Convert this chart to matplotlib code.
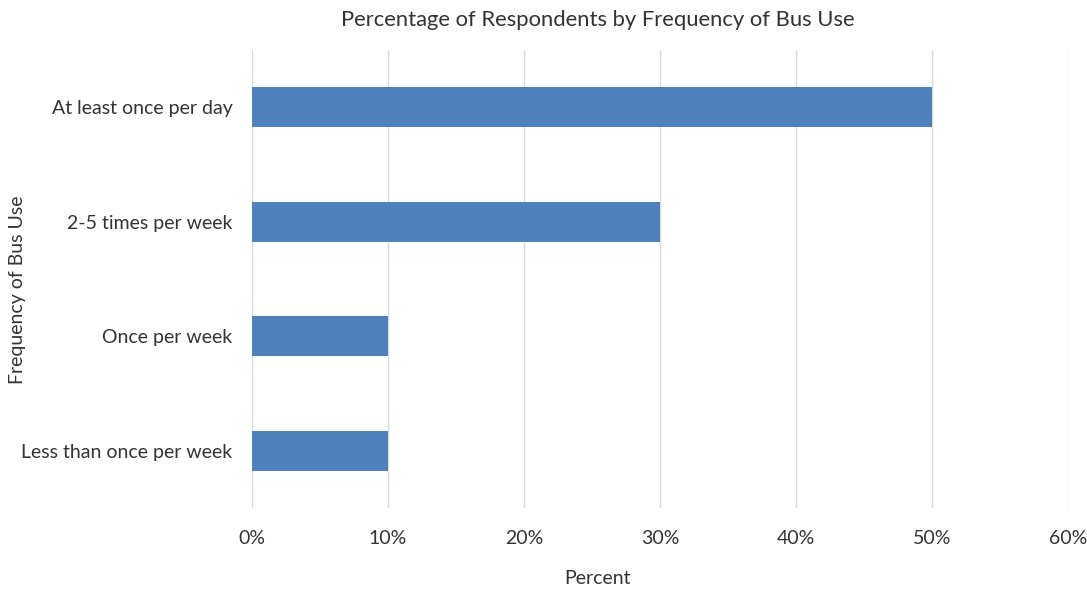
import matplotlib
matplotlib.use("Agg")
import matplotlib.pyplot as plt
from matplotlib.ticker import PercentFormatter

categories = ["At least once per day", "2-5 times per week", "Once per week", "Less than once per week"]
values = [50, 30, 10, 10]
xticks = [0, 10, 20, 30, 40, 50, 60]

plt.rcParams['font.family'] = ['Lato', 'DejaVu Sans']
txt = '#333333'

fig = plt.figure(figsize=(10.87, 5.91), dpi=100)
ax = fig.add_axes([0.2318, 0.1404, 0.7507, 0.775])
y = list(range(len(categories)))
ax.barh(y, values, height=0.35, color='#4f81bd', zorder=3)
ax.set_ylim(len(categories) - 0.5, -0.5)
ax.set_yticks(y)
ax.set_yticklabels(categories, fontsize=14, color=txt)
ax.set_xlim(0, 60)
ax.set_xticks(xticks)
ax.xaxis.set_major_formatter(PercentFormatter(decimals=0))
ax.tick_params(axis='x', labelsize=14, colors=txt, length=0, pad=16)
ax.tick_params(axis='y', length=0, pad=14)
ax.grid(axis='x', color='#d9d9d9', linewidth=1, zorder=0)
for s in ax.spines.values():
    s.set_visible(False)
fig.text(598 / 1087, 1 - 578 / 591, "Percent", ha='center', va='center', fontsize=14, color=txt)
fig.text(18 / 1087, 1 - 290 / 591, "Frequency of Bus Use", ha='center', va='center', rotation=90, fontsize=14, color=txt)
fig.text(598 / 1087, 1 - 20 / 591, "Percentage of Respondents by Frequency of Bus Use", ha='center', va='center', fontsize=15.8, color=txt)
fig.savefig("out.png", dpi=100)
